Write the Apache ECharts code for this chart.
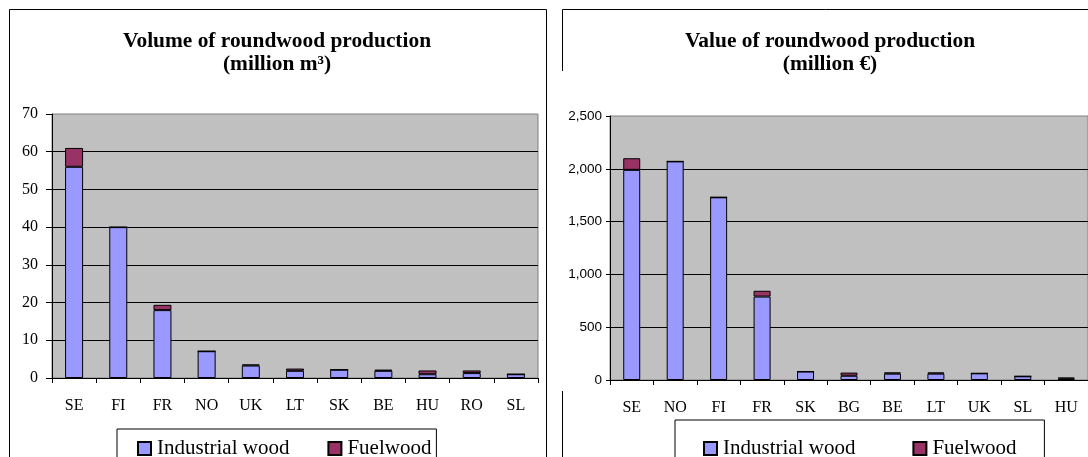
<!DOCTYPE html>
<html>
<head>
<meta charset="utf-8">
<script src="https://cdn.jsdelivr.net/npm/echarts@6/dist/echarts.min.js"></script>
<style>
html,body{margin:0;padding:0;background:#fff;}
#c{width:1088px;height:457px;}
</style>
</head>
<body>
<div id="c"></div>
<script>
// Volume of roundwood production (million m3)
const volCategories = ['SE','FI','FR','NO','UK','LT','SK','BE','HU','RO','SL'];
const volIndustrial = [56, 40, 18, 7.1, 3.3, 1.9, 2.2, 1.9, 1.0, 1.3, 1.0];
const volFuel       = [5, 0, 1.4, 0, 0.3, 0.6, 0, 0.3, 1.0, 0.7, 0];
const volTicks = {min: 0, max: 70, interval: 10};

// Value of roundwood production (million EUR)
const valCategories = ['SE','NO','FI','FR','SK','BG','BE','LT','UK','SL','HU'];
const valIndustrial = [1990, 2070, 1730, 790, 80, 40, 60, 60, 63, 35, 12];
const valFuel       = [110, 0, 0, 55, 0, 30, 12, 12, 0, 0, 12];
const valTicks = {min: 0, max: 2500, interval: 500};

const seriesNames = ['Industrial wood', 'Fuelwood'];
const titles = ['Volume of roundwood production\n(million m\u00B3)', 'Value of roundwood production\n(million \u20AC)'];

const SERIF = "'Liberation Serif', 'Times New Roman', serif";
const SANS = "'Liberation Sans', Arial, sans-serif";
const C_IND = '#9999FF', C_FUEL = '#993366';

const chart = echarts.init(document.getElementById('c'), null, {renderer: 'canvas'});

function xAxisCfg(gridIndex, cats) {
  return {
    type: 'category', gridIndex, data: cats, boundaryGap: true,
    axisLine: {show: true, lineStyle: {color: '#000', width: 1}},
    axisTick: {show: true, interval: 0, length: 5, lineStyle: {color: '#000'}},
    axisLabel: {interval: 0, margin: 20, color: '#000', fontFamily: SERIF, fontSize: 16},
    splitLine: {show: false}
  };
}
function yAxisCfg(gridIndex, t, font, size, margin, tickLen, fmt) {
  return {
    type: 'value', gridIndex, min: t.min, max: t.max, interval: t.interval,
    axisLine: {show: true, lineStyle: {color: '#000', width: 1}},
    axisTick: {show: true, length: tickLen, lineStyle: {color: '#000'}},
    axisLabel: {color: '#000', fontFamily: font, fontSize: size, margin: margin, formatter: fmt},
    splitLine: {show: true, showMaxLine: false, lineStyle: {color: '#000', width: 1}}
  };
}
const itemBorder = {borderColor: '#000', borderWidth: 1};

const option = {
  animation: false,
  backgroundColor: '#fff',
  title: [
    {text: titles[0], left: 272, top: 25, textAlign: 'center',
     textStyle: {fontFamily: SERIF, fontSize: 21.4, fontWeight: 'bold', color: '#000', lineHeight: 23}},
    {text: titles[1], left: 825, top: 25, textAlign: 'center',
     textStyle: {fontFamily: SERIF, fontSize: 21.4, fontWeight: 'bold', color: '#000', lineHeight: 23}}
  ],
  legend: [
    {data: seriesNames, left: 117, top: 429, orient: 'horizontal',
     icon: 'rect', itemWidth: 13, itemHeight: 13, itemGap: 38,
     padding: [9, 5, 30, 20], borderColor: '#000', borderWidth: 1,
     textStyle: {fontFamily: SERIF, fontSize: 21, color: '#000', padding: [0, 0, 0, 1]}},
    {data: seriesNames, left: 675, top: 420, orient: 'horizontal',
     icon: 'rect', itemWidth: 13, itemHeight: 13, itemGap: 57,
     padding: [18, 28, 30, 28], borderColor: '#000', borderWidth: 1,
     textStyle: {fontFamily: SERIF, fontSize: 21, color: '#000', padding: [0, 0, 0, 1]}}
  ],
  grid: [
    {left: 52, top: 114, width: 486, height: 264, show: true, backgroundColor: '#C0C0C0', borderColor: '#808080', borderWidth: 1},
    {left: 610, top: 116, width: 486, height: 264, show: true, backgroundColor: '#C0C0C0', borderColor: '#808080', borderWidth: 1}
  ],
  xAxis: [xAxisCfg(0, volCategories), xAxisCfg(1, valCategories)],
  yAxis: [
    yAxisCfg(0, volTicks, SERIF, 16, 14, 6, v => String(v)),
    yAxisCfg(1, valTicks, SANS, 13.5, 8, 4, v => v.toLocaleString('en-US'))
  ],
  series: [
    {name: seriesNames[0], type: 'bar', xAxisIndex: 0, yAxisIndex: 0, stack: 'L', barWidth: 18, data: volIndustrial, itemStyle: Object.assign({color: C_IND}, itemBorder)},
    {name: seriesNames[1], type: 'bar', xAxisIndex: 0, yAxisIndex: 0, stack: 'L', barWidth: 18, data: volFuel, itemStyle: Object.assign({color: C_FUEL}, itemBorder)},
    {name: seriesNames[0], type: 'bar', xAxisIndex: 1, yAxisIndex: 1, stack: 'R', barWidth: 17, data: valIndustrial, itemStyle: Object.assign({color: C_IND}, itemBorder)},
    {name: seriesNames[1], type: 'bar', xAxisIndex: 1, yAxisIndex: 1, stack: 'R', barWidth: 17, data: valFuel, itemStyle: Object.assign({color: C_FUEL}, itemBorder)}
  ],
  graphic: [
    {type: 'rect', silent: true, z: 100, shape: {x: 9.5, y: 9.5, width: 537, height: 520},
     style: {fill: null, stroke: '#000', lineWidth: 1}},
    {type: 'line', silent: true, z: 100, shape: {x1: 562.5, y1: 9.5, x2: 1100, y2: 9.5}, style: {stroke: '#000', lineWidth: 1}},
    {type: 'line', silent: true, z: 100, shape: {x1: 562.5, y1: 9.5, x2: 562.5, y2: 71}, style: {stroke: '#000', lineWidth: 1}},
    {type: 'line', silent: true, z: 100, shape: {x1: 562.5, y1: 391, x2: 562.5, y2: 460}, style: {stroke: '#000', lineWidth: 1}}
  ]
};
chart.setOption(option);
</script>
</body>
</html>
